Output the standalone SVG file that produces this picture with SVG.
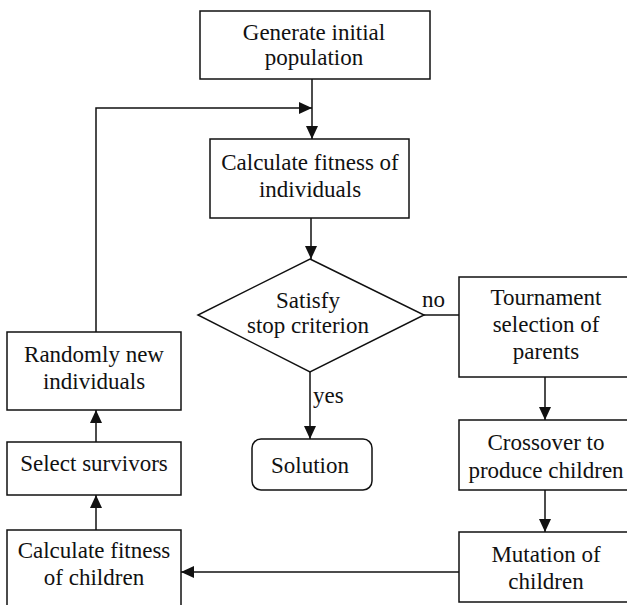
<svg xmlns="http://www.w3.org/2000/svg" width="627" height="605" viewBox="0 0 627 605">
<style>
.box{fill:#fff;stroke:#111;stroke-width:1.5}
.t{font-family:"Liberation Serif","Times New Roman",serif;font-size:23px;fill:#111;text-anchor:middle}
.l{font-family:"Liberation Serif","Times New Roman",serif;font-size:23px;fill:#111}
.c{fill:none;stroke:#111;stroke-width:1.5}
</style>
<defs>
<marker id="ah" markerUnits="userSpaceOnUse" markerWidth="13" markerHeight="12" refX="13" refY="6" orient="auto">
<path d="M0,0 L13,6 L0,12 z" fill="#111"/>
</marker>
</defs>
<rect width="627" height="605" fill="#fff"/>
<g id="connectors">
<path class="c" d="M312,79 V139" marker-end="url(#ah)"/>
<path class="c" d="M96,332 V108 H312" marker-end="url(#ah)"/>
<path class="c" d="M311,218 V259" marker-end="url(#ah)"/>
<path class="c" d="M424,315 H459"/>
<path class="c" d="M310,372 V439" marker-end="url(#ah)"/>
<path class="c" d="M545,377 V420" marker-end="url(#ah)"/>
<path class="c" d="M545,490 V532" marker-end="url(#ah)"/>
<path class="c" d="M459,572 H181" marker-end="url(#ah)"/>
<path class="c" d="M96,530 V495" marker-end="url(#ah)"/>
<path class="c" d="M96,442 V410" marker-end="url(#ah)"/>
<text class="l" x="422" y="307">no</text>
<text class="l" x="313" y="403">yes</text>
</g>
<g id="generate">
<rect class="box" x="200" y="11" width="230" height="68"/>
<text class="t" x="314" y="40">Generate initial</text>
<text class="t" x="314" y="65">population</text>
</g>
<g id="calc-fitness">
<rect class="box" x="210" y="139" width="199" height="79"/>
<text class="t" x="310" y="170">Calculate fitness of</text>
<text class="t" x="310" y="197">individuals</text>
</g>
<g id="decision">
<polygon class="box" points="310,259 424,315 310,372 198,315"/>
<text class="t" x="308" y="308">Satisfy</text>
<text class="t" x="308" y="333">stop criterion</text>
</g>
<g id="tournament">
<rect class="box" x="459" y="277" width="175" height="100"/>
<text class="t" x="546" y="305">Tournament</text>
<text class="t" x="546" y="332">selection of</text>
<text class="t" x="546" y="359">parents</text>
</g>
<g id="crossover">
<rect class="box" x="459" y="420" width="175" height="70"/>
<text class="t" x="546" y="450">Crossover to</text>
<text class="t" x="546" y="478">produce children</text>
</g>
<g id="mutation">
<rect class="box" x="459" y="532" width="175" height="70"/>
<text class="t" x="546" y="562">Mutation of</text>
<text class="t" x="546" y="589">children</text>
</g>
<g id="solution">
<rect class="box" x="252" y="439" width="120" height="51" rx="9"/>
<text class="t" x="310" y="473">Solution</text>
</g>
<g id="randomly">
<rect class="box" x="7" y="332" width="174" height="78"/>
<text class="t" x="94" y="362">Randomly new</text>
<text class="t" x="94" y="389">individuals</text>
</g>
<g id="select">
<rect class="box" x="7" y="442" width="174" height="53"/>
<text class="t" x="94" y="471">Select survivors</text>
</g>
<g id="calc-children">
<rect class="box" x="7" y="530" width="174" height="80"/>
<text class="t" x="94" y="558">Calculate fitness</text>
<text class="t" x="94" y="585">of children</text>
</g>
</svg>
